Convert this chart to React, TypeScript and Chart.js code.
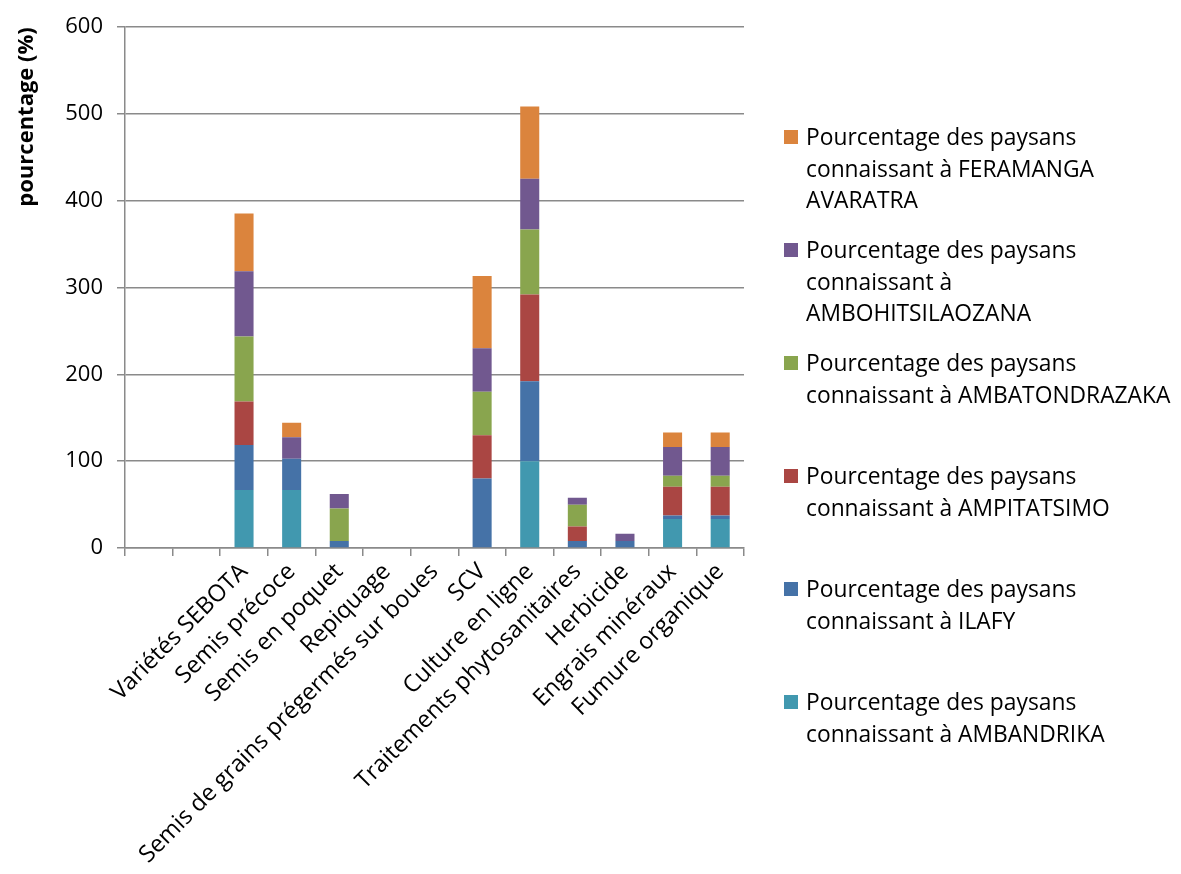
import React, { useEffect, useRef } from "react";
import { Chart, registerables } from "chart.js";

Chart.register(...registerables);

// Categories (first two slots are empty in the original chart)
const categories = [
  "",
  "",
  "Variétés SEBOTA",
  "Semis précoce",
  "Semis en poquet",
  "Repiquage",
  "Semis de grains prégermés sur boues",
  "SCV",
  "Culture en ligne",
  "Traitements phytosanitaires",
  "Herbicide",
  "Engrais minéraux",
  "Fumure organique",
];

// Series values (stacked bottom -> top)
const ambandrika = [0, 0, 66.7, 66.7, 0, 0, 0, 0, 100, 0, 0, 33.3, 33.3];
const ilafy = [0, 0, 52, 36, 8, 0, 0, 80, 92, 8, 8, 4, 4];
const ampitatsimo = [0, 0, 50, 0, 0, 0, 0, 50, 100, 16.7, 0, 33.3, 33.3];
const ambatondrazaka = [0, 0, 75, 0, 37.5, 0, 0, 50, 75, 25, 0, 12.5, 12.5];
const ambohitsilaozana = [0, 0, 75, 25, 16.7, 0, 0, 50, 58.3, 8.3, 8.3, 33.3, 33.3];
const feramanga = [0, 0, 66.7, 16.7, 0, 0, 0, 83.3, 83.3, 0, 0, 16.7, 16.7];

const seriesNames = [
  "Pourcentage des paysans\nconnaissant à AMBANDRIKA",
  "Pourcentage des paysans\nconnaissant à ILAFY",
  "Pourcentage des paysans\nconnaissant à AMPITATSIMO",
  "Pourcentage des paysans\nconnaissant à AMBATONDRAZAKA",
  "Pourcentage des paysans\nconnaissant à\nAMBOHITSILAOZANA",
  "Pourcentage des paysans\nconnaissant à FERAMANGA\nAVARATRA",
];

const seriesValues = [ambandrika, ilafy, ampitatsimo, ambatondrazaka, ambohitsilaozana, feramanga];
const seriesColors = ["#4198AF", "#4572A7", "#AA4643", "#89A54E", "#71588F", "#DB843D"];

const yTitle = "pourcentage (%)";
const yMin = 0;
const yMax = 600;
const yStep = 100;

const FONT = "'Open Sans', 'DejaVu Sans', sans-serif";
const GRID = "#8a8a8a";

export default function App() {
  const ref = useRef<HTMLCanvasElement>(null);

  useEffect(() => {
    if (!ref.current) return;
    const chart = new Chart(ref.current, {
      type: "bar",
      data: {
        labels: categories,
        datasets: seriesValues.map((vals, i) => ({
          label: seriesNames[i].replace(/\n/g, " "),
          data: vals,
          backgroundColor: seriesColors[i],
          borderWidth: 0,
          barPercentage: 0.4,
          categoryPercentage: 1,
        })),
      },
      options: {
        responsive: false,
        animation: false,
        layout: { padding: { top: 22, right: 437, left: 0, bottom: 0 } },
        plugins: {
          legend: { display: false },
          tooltip: { enabled: false },
        },
        scales: {
          x: {
            stacked: true,
            grid: {
              display: true,
              drawOnChartArea: false,
              drawTicks: true,
              tickLength: 8,
              color: GRID,
              lineWidth: 1.5,
              offset: true,
            },
            border: { color: GRID, width: 1.5 },
            ticks: {
              autoSkip: false,
              maxRotation: 45,
              minRotation: 45,
              font: { family: FONT, size: 23.5 },
              color: "#000",
              padding: 2,
            },
            afterFit: (s: any) => {
              s.height = 326;
            },
          },
          y: {
            stacked: true,
            min: yMin,
            max: yMax,
            ticks: {
              stepSize: yStep,
              font: { family: FONT, size: 22 },
              color: "#000",
              padding: 14,
            },
            grid: { color: GRID, lineWidth: 1.5, tickLength: 8 },
            border: { color: GRID, width: 1.5 },
            title: {
              display: true,
              text: yTitle,
              align: "end",
              color: "#000",
              font: { family: FONT, size: 22, weight: "bold" },
              padding: { top: 14, bottom: 0 },
            },
            afterFit: (s: any) => {
              s.width = 125;
            },
          },
        },
      },
    });
    return () => chart.destroy();
  }, []);

  const legendOrder = [5, 4, 3, 2, 1, 0];

  return (
    <div
      style={{
        position: "absolute",
        left: 0,
        top: 0,
        width: 1181,
        height: 874,
        overflow: "hidden",
        background: "#fff",
      }}
    >
      <canvas ref={ref} width={1181} height={874} style={{ display: "block" }} />
      <div
        style={{
          position: "absolute",
          left: 784,
          top: 121,
          fontFamily: FONT,
          fontSize: 22.8,
          lineHeight: "31.5px",
          color: "#000",
        }}
      >
        {legendOrder.map((i) => (
          <div key={i} style={{ display: "flex", alignItems: "flex-start", height: 113 }}>
            <div
              style={{
                width: 14,
                height: 14,
                marginTop: 9,
                marginRight: 8,
                background: seriesColors[i],
                flex: "none",
              }}
            />
            <div style={{ whiteSpace: "pre" }}>{seriesNames[i]}</div>
          </div>
        ))}
      </div>
    </div>
  );
}
